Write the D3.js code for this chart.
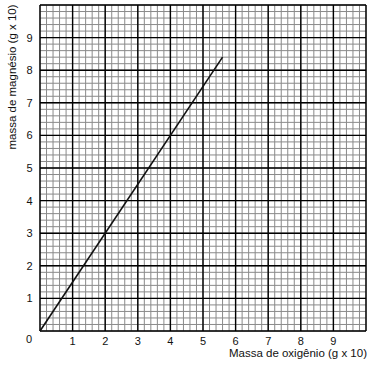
<!DOCTYPE html>
<html><head><meta charset="utf-8">
<script src="https://cdn.jsdelivr.net/npm/d3@7"></script>
<style>body{margin:0;background:#fff}svg{display:block}text{font-family:"Liberation Sans",Arial,sans-serif;fill:#111}</style>
</head><body><svg id="c" width="376" height="370"></svg>
<script>
const xTicks = [1,2,3,4,5,6,7,8,9];
const yTicks = [1,2,3,4,5,6,7,8,9];
const lineX = [0, 5.6];
const lineY = [0, 8.4];
const xTitle = "Massa de oxigênio (g x 10)";
const yTitle = "massa de magnésio (g x 10)";

const svg = d3.select("#c");
const x = d3.scaleLinear().domain([0,10]).range([40,366]);
const y = d3.scaleLinear().domain([0,10]).range([331,5]);

const minor = d3.range(0,10.01,0.2);
const g = svg.append("g");
g.selectAll(".vm").data(minor).enter().append("line")
 .attr("x1",d=>x(d)).attr("x2",d=>x(d)).attr("y1",y(0)).attr("y2",y(10))
 .attr("stroke","#8a8a8a").attr("stroke-width",1);
g.selectAll(".hm").data(minor).enter().append("line")
 .attr("y1",d=>y(d)).attr("y2",d=>y(d)).attr("x1",x(0)).attr("x2",x(10))
 .attr("stroke","#8a8a8a").attr("stroke-width",1);
const major = d3.range(0,11,1);
g.selectAll(".vM").data(major).enter().append("line")
 .attr("x1",d=>x(d)).attr("x2",d=>x(d)).attr("y1",y(0)).attr("y2",y(10))
 .attr("stroke","#000").attr("stroke-width",1.4);
g.selectAll(".hM").data(major).enter().append("line")
 .attr("y1",d=>y(d)).attr("y2",d=>y(d)).attr("x1",x(0)).attr("x2",x(10))
 .attr("stroke","#000").attr("stroke-width",1.4);

const pts = lineX.map((v,i)=>[v,lineY[i]]);
svg.append("path").datum(pts)
 .attr("d",d3.line().x(d=>x(d[0])).y(d=>y(d[1])))
 .attr("stroke","#111").attr("stroke-width",1.6).attr("fill","none");

svg.selectAll(".xt").data(xTicks).enter().append("text")
 .attr("x",d=>x(d)).attr("y",345).attr("text-anchor","middle")
 .attr("font-size",11).text(d=>d);
svg.selectAll(".yt").data(yTicks).enter().append("text")
 .attr("x",29.5).attr("y",d=>y(d)+4).attr("text-anchor","middle")
 .attr("font-size",11).text(d=>d);
svg.append("text").attr("x",29).attr("y",342.5).attr("text-anchor","middle").attr("font-size",11).text("0");
svg.append("text").attr("x",367).attr("y",357).attr("text-anchor","end").attr("font-size",11.5).text(xTitle);
svg.append("text").attr("transform","translate(16,77) rotate(-90)").attr("text-anchor","middle").attr("font-size",11.5).text(yTitle);
</script></body></html>
